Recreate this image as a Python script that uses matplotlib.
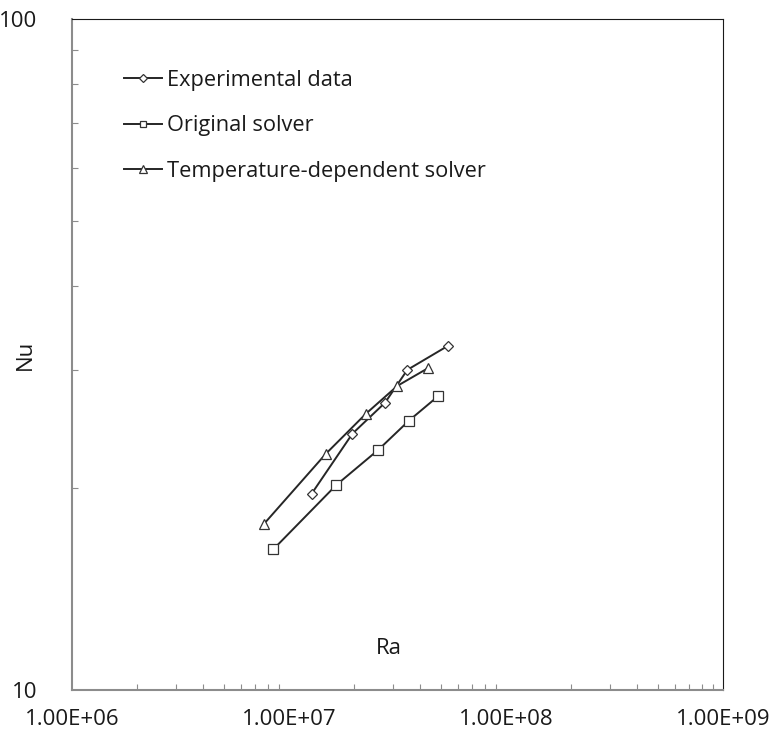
import matplotlib.pyplot as plt
from matplotlib.ticker import LogLocator, NullFormatter, FixedLocator, FixedFormatter

plt.rcParams['font.family'] = ['Open Sans', 'DejaVu Sans']

#------- values

exp_ra = [1.27e7, 1.96e7, 2.77e7, 3.51e7, 5.42e7]
exp_nu = [19.6, 24.1, 26.8, 30.0, 32.6]

orig_ra = [8.46e6, 1.65e7, 2.58e7, 3.57e7, 4.86e7]
orig_nu = [16.2, 20.2, 22.8, 25.2, 27.4]

temp_ra = [7.69e6, 1.48e7, 2.26e7, 3.16e7, 4.39e7]
temp_nu = [17.7, 22.5, 25.8, 28.4, 30.2]

x_ticks = [1e6, 1e7, 1e8, 1e9]
x_labels = ['1.00E+06', '1.00E+07', '1.00E+08', '1.00E+09']
y_ticks = [10, 100]
y_labels = ['10', '100']

#------- figure

fig = plt.figure(figsize=(7.74, 7.4), dpi=100)
ax = fig.add_axes([72/774, 50/740, 651/774, 671/740])

line_col = '#262626'
style = dict(color=line_col, lw=1.4, mfc='white', mec='#333333', mew=0.9)

ax.plot(exp_ra, exp_nu, marker='D', ms=5.5, label='Experimental data', **style)
ax.plot(orig_ra, orig_nu, marker='s', ms=6.5, label='Original solver', **style)
ax.plot(temp_ra, temp_nu, marker='^', ms=7.5, label='Temperature-dependent solver', **style)

ax.set_xscale('log')
ax.set_yscale('log')
ax.set_xlim(1e6, 1e9)
ax.set_ylim(10, 100)

ax.xaxis.set_major_locator(FixedLocator(x_ticks))
ax.xaxis.set_major_formatter(FixedFormatter(x_labels))
ax.xaxis.set_minor_locator(LogLocator(base=10, subs=range(2, 10)))
ax.xaxis.set_minor_formatter(NullFormatter())
ax.yaxis.set_major_locator(FixedLocator(y_ticks))
ax.yaxis.set_major_formatter(FixedFormatter(y_labels))
ax.yaxis.set_minor_locator(LogLocator(base=10, subs=range(2, 10)))
ax.yaxis.set_minor_formatter(NullFormatter())

gray = '#8c8c8c'
ax.tick_params(which='both', direction='in', color=gray, width=0.8)
ax.tick_params(which='major', length=0)
ax.tick_params(which='minor', length=4)
ax.tick_params(axis='x', which='major', pad=14, labelsize=16, labelcolor='#1a1a1a')
ax.tick_params(axis='y', which='major', pad=25, labelsize=16, labelcolor='#1a1a1a')

ax.spines['left'].set_color(gray)
ax.spines['bottom'].set_color(gray)
ax.spines['left'].set_linewidth(1.5)
ax.spines['bottom'].set_linewidth(1.5)
ax.spines['top'].set_color('#1a1a1a')
ax.spines['right'].set_color('#1a1a1a')

#------- axis titles sit inside / beside the plot like the original

ax.text(0.486, 0.062, 'Ra', transform=ax.transAxes, ha='center', va='center',
        fontsize=16, color='#1a1a1a')
fig.text(25/774, 1 - 355/740, 'Nu', rotation=90, ha='center', va='center',
         fontsize=16, color='#1a1a1a')

leg = ax.legend(loc='upper left', bbox_to_anchor=(0.08, 0.924), frameon=False,
                fontsize=15.7, handlelength=1.75, handletextpad=0.2,
                labelspacing=1.12, borderaxespad=0, borderpad=0, markerscale=0.7)
for t in leg.get_texts():
    t.set_color('#1a1a1a')

plt.savefig('out.png', dpi=100)
